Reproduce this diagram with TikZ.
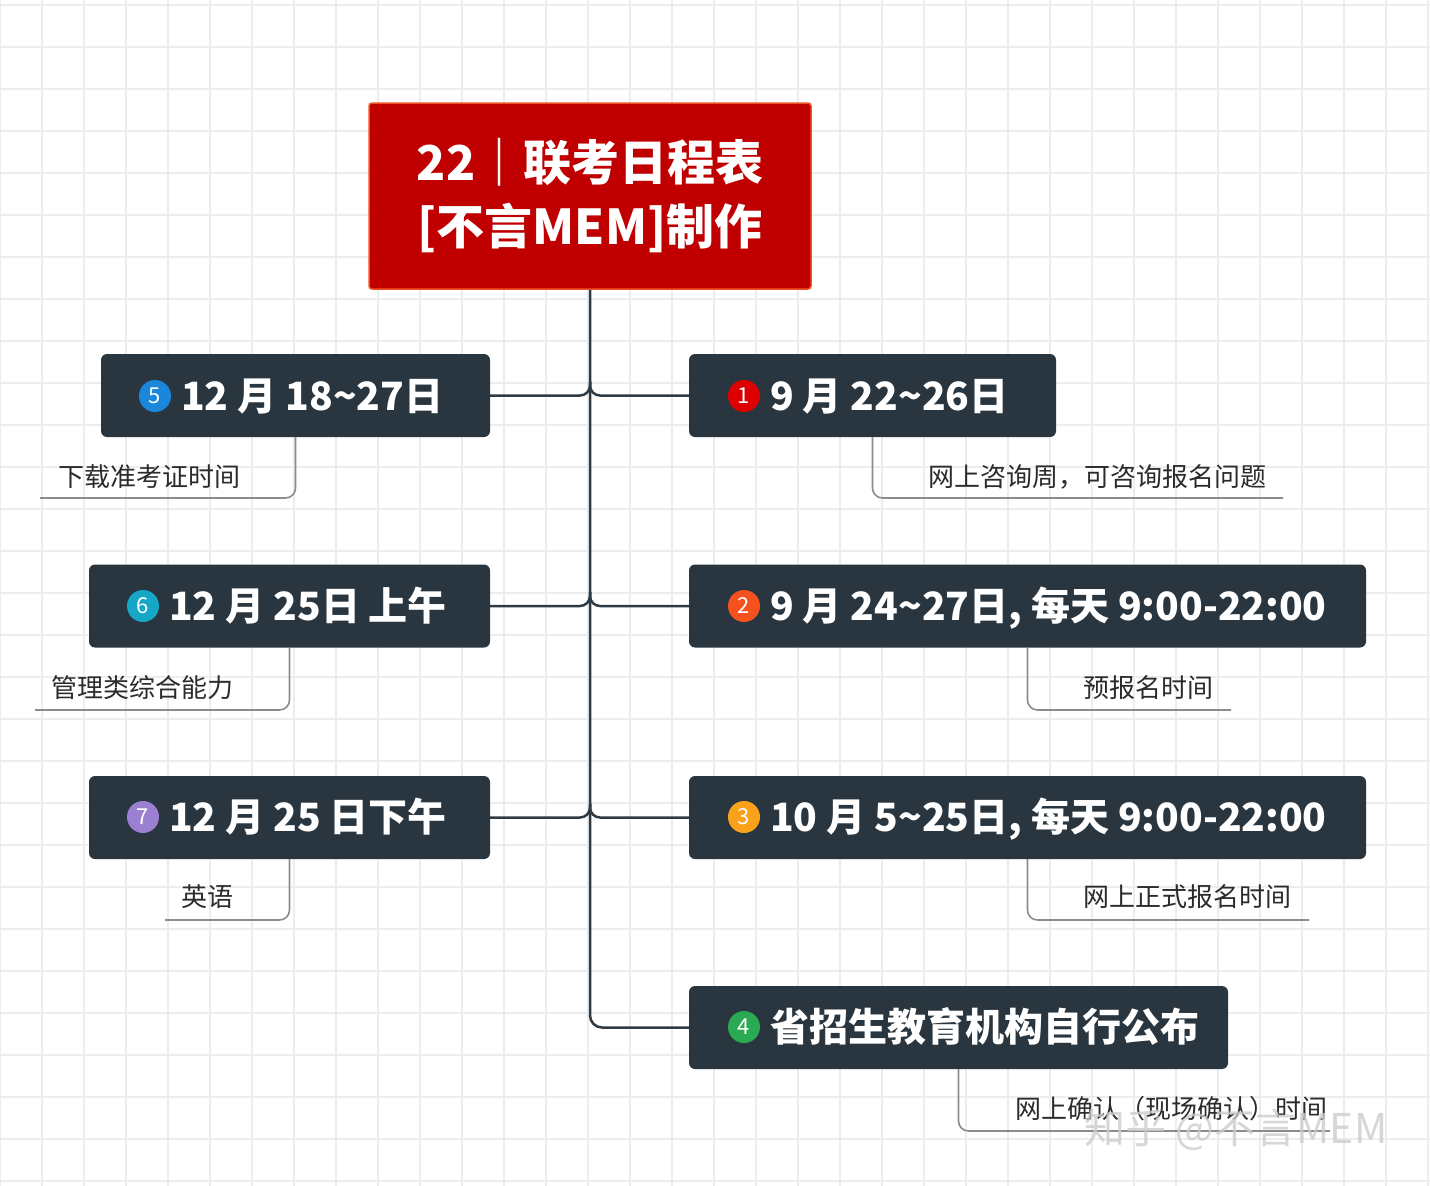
\documentclass[tikz,border=0pt]{standalone}
\usepackage{fontspec}
\setmainfont{Noto Sans CJK SC}
\usetikzlibrary{calc}
\definecolor{nodebg}{HTML}{29363F}
\definecolor{rootbg}{HTML}{C00000}
\definecolor{rootbd}{HTML}{F0522A}
\definecolor{gridc}{HTML}{EDEDED}
\definecolor{linec}{HTML}{2E3B44}
\definecolor{subc}{HTML}{8C8C8C}
\definecolor{txtc}{HTML}{2B2B2B}
\definecolor{cA}{HTML}{DD0000}
\definecolor{cB}{HTML}{F4511E}
\definecolor{cC}{HTML}{F9A11B}
\definecolor{cD}{HTML}{2AAA52}
\definecolor{cE}{HTML}{1A87DB}
\definecolor{cF}{HTML}{17A7C6}
\definecolor{cG}{HTML}{9B7FD0}
\tikzset{
  gridline/.style={draw=gridc, line width=2pt},
  mainbox/.style={fill=nodebg, rounded corners=6pt, inner sep=0pt},
  maintext/.style={anchor=base west, inner sep=0pt, text=white, font=\fontsize{39}{44}\selectfont\bfseries},
  numc/.style={circle, inner sep=0pt, minimum size=32pt, text=white, font=\fontsize{22}{24}\selectfont},
  branch/.style={draw=linec, line width=2.5pt, rounded corners=10pt},
  subline/.style={draw=subc, line width=1.6pt, rounded corners=10pt},
  sublabel/.style={inner sep=0pt, text=txtc, font=\fontsize{26}{30}\selectfont},
}
\begin{document}
\begin{tikzpicture}[x=1pt,y=-1pt]
\useasboundingbox (0,0) rectangle (1430,1186);
\fill[white] (0,0) rectangle (1430,1186);
\foreach \i in {0,...,34} \draw[gridline] (42*\i,0) -- (42*\i,1186);
\foreach \j in {0,...,28} \draw[gridline] (0,5+42*\j) -- (1430,5+42*\j);

% root
\node[fill=rootbg, draw=rootbd, line width=1.5pt, rounded corners=3pt,
      minimum width=442pt, minimum height=186pt, inner sep=0pt,
      text=white, align=center, font=\fontsize{48}{64}\selectfont\bfseries]
  (root) at (590,196) {22｜联考日程表\\{[}不言MEM{]}制作};

% main nodes
\node[mainbox, minimum width=389pt, minimum height=83pt] (n5) at (295.5,395.5) {};
\node[mainbox, minimum width=401pt, minimum height=83pt] (n6) at (289.5,606) {};
\node[mainbox, minimum width=401pt, minimum height=83pt] (n7) at (289.5,817.5) {};
\node[mainbox, minimum width=367pt, minimum height=83pt] (n1) at (872.5,395.5) {};
\node[mainbox, minimum width=677pt, minimum height=83pt] (n2) at (1027.5,606) {};
\node[mainbox, minimum width=677pt, minimum height=83pt] (n3) at (1027.5,817.5) {};
\node[mainbox, minimum width=539pt, minimum height=83pt] (n4) at (958.5,1027.5) {};

% number circles
\node[numc, fill=cE] (c5) at (155,396) {5};
\node[numc, fill=cF] (c6) at (143,606) {6};
\node[numc, fill=cG] (c7) at (143,817) {7};
\node[numc, fill=cA] (c1) at (744,396) {1};
\node[numc, fill=cB] (c2) at (744,606) {2};
\node[numc, fill=cC] (c3) at (744,817) {3};
\node[numc, fill=cD] (c4) at (744,1027) {4};

% main texts
\node[maintext] (t5) at (181,410) {12 月 18\char"7E 27日};
\node[maintext] (t6) at (169,620) {12 月 25日 上午};
\node[maintext] (t7) at (169,831) {12 月 25 日下午};
\node[maintext] (t1) at (770,410) {9 月 22\char"7E 26日};
\node[maintext] (t2) at (770,620) {9 月 24\char"7E 27日, 每天 9:00-22:00};
\node[maintext] (t3) at (770,831) {10 月 5\char"7E 25日, 每天 9:00-22:00};
\node[maintext] (t4) at (770,1041) {省招生教育机构自行公布};

% branches
\draw[branch, rounded corners=12pt] (root.south) |- (n4.west);
\draw[branch] ($(root.south |- n5.east)+(0,-14)$) |- (n5.east);
\draw[branch] ($(root.south |- n6.east)+(0,-14)$) |- (n6.east);
\draw[branch] ($(root.south |- n7.east)+(0,-14)$) |- (n7.east);
\draw[branch] ($(root.south |- n1.west)+(0,-14)$) |- (n1.west);
\draw[branch] ($(root.south |- n2.west)+(0,-14)$) |- (n2.west);
\draw[branch] ($(root.south |- n3.west)+(0,-14)$) |- (n3.west);

% sub labels
\coordinate (e5) at (40,498);
\coordinate (e6) at (35,710);
\coordinate (e7) at (165,920);
\coordinate (e1) at (1283,498);
\coordinate (e2) at (1231,710);
\coordinate (e3) at (1309,920);
\coordinate (e4) at (1330,1131);
\draw[subline] (n5.south) |- (e5);
\draw[subline] (n6.south) |- (e6);
\draw[subline] (n7.south) |- (e7);
\draw[subline] (n1.south) |- (e1);
\draw[subline] (n2.south) |- (e2);
\draw[subline] (n3.south) |- (e3);
\draw[subline] (n4.south) |- (e4);

\node[sublabel] (l5) at (149,477) {下载准考证时间};
\node[sublabel] (l6) at (142,688) {管理类综合能力};
\node[sublabel] (l7) at (207,897) {英语};
\node[sublabel] (l1) at (1097,477) {网上咨询周，可咨询报名问题};
\node[sublabel] (l2) at (1148,688) {预报名时间};
\node[sublabel] (l3) at (1187,897) {网上正式报名时间};
\node[sublabel] (l4) at (1171,1109) {网上确认（现场确认）时间};

% watermark
\node[inner sep=0pt, text=gray!40, opacity=0.8, font=\fontsize{41}{44}\selectfont] (wm) at (1236,1130) {知乎 @不言MEM};
\end{tikzpicture}
\end{document}
